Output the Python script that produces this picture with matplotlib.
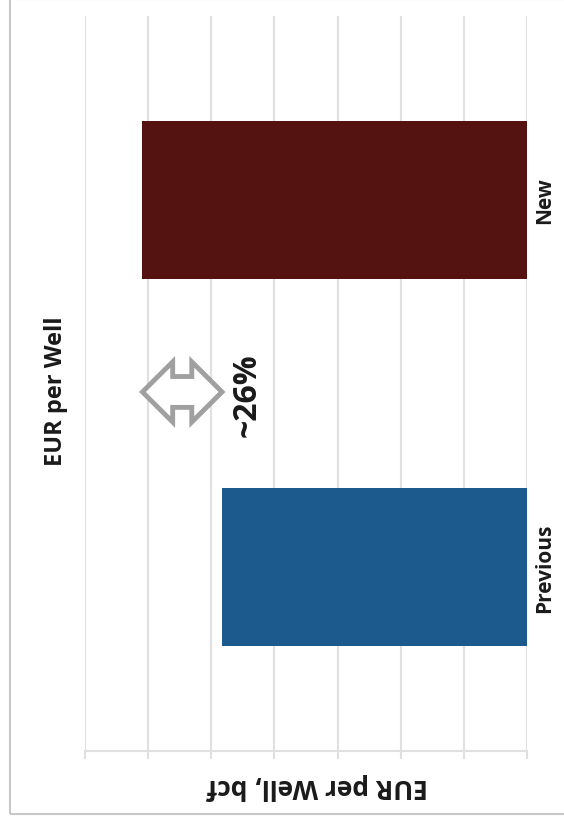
import matplotlib
matplotlib.use("Agg")
import matplotlib.pyplot as plt
from matplotlib.patches import Polygon, Rectangle

categories = ["New", "Previous"]
values = [6.09, 4.83]
colors = ["#541210", "#1c5a8e"]
title = "EUR per Well"
axis_label = "EUR per Well, bcf"
change_label = "~26%"
grid_ticks = [0, 1, 2, 3, 4, 5, 6, 7]

plt.rcParams['font.family'] = ['Open Sans', 'DejaVu Sans']

fig = plt.figure(figsize=(5.64, 8.28), dpi=100)
ax = fig.add_axes([85/564, 1-752/828, 442/564, 735/828])

ypos = list(range(len(categories)))
ax.barh(ypos, values, height=0.43, color=colors, zorder=3)
ax.set_xlim(7, 0)
ax.set_ylim(1.5, -0.5)
ax.set_xticks(grid_ticks)
ax.set_xticklabels([])
ax.set_yticks([])
ax.grid(axis='x', color='#e0e0e0', linewidth=1.5, zorder=0)
for s in ['top', 'left', 'right']:
    ax.spines[s].set_visible(False)
ax.spines['bottom'].set_color('#e0e0e0')
ax.spines['bottom'].set_linewidth(1.5)
ax.tick_params(axis='x', length=6, color='#e0e0e0', width=1.5)
ax.axvline(0, color='#ececec', linewidth=2, zorder=1)

# category labels (rotated)
for y, c in zip(ypos, categories):
    ax.text(-0.28, y, c, rotation=90, ha='center', va='center',
            fontsize=15, fontweight='bold', color='#1a1a1a', clip_on=False)

# change label
ax.text(4.44, 0.53, change_label, rotation=90, ha='center', va='center',
        fontsize=23, fontweight='bold', color='#1a1a1a')

# hollow double arrow between bar ends
x0, x1 = values[1], values[0]
yc = 0.523
w = x1 - x0
hl = 0.38 * w
hh = 0.082
sh = 0.042
pts = [
    (x0, yc),
    (x0 + hl, yc - hh),
    (x0 + hl, yc - sh),
    (x1 - hl, yc - sh),
    (x1 - hl, yc - hh),
    (x1, yc),
    (x1 - hl, yc + hh),
    (x1 - hl, yc + sh),
    (x0 + hl, yc + sh),
    (x0 + hl, yc + hh),
]
ax.add_patch(Polygon(pts, closed=True, facecolor='white', edgecolor='#a0a0a0',
                     linewidth=3.5, zorder=4, joinstyle='miter'))

# title and axis label
fig.text(56/564, 1-391/828, title, rotation=90, ha='center', va='center',
         fontsize=17, fontweight='bold', color='#1a1a1a')
fig.text(317/564, 1-787/828, axis_label, rotation=180, ha='center', va='center',
         fontsize=19, fontweight='bold', color='#1a1a1a')

# frame
fig.add_artist(Rectangle((10/564, 1-815/828), 0.99, 815/828, transform=fig.transFigure,
                         fill=False, edgecolor='#c8c8c8', linewidth=1.5))

fig.savefig("out.png", dpi=100)
